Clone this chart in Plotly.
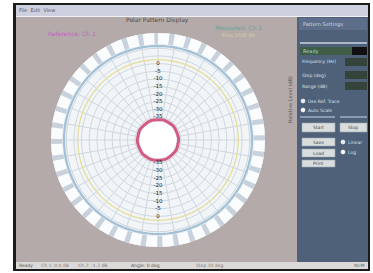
import plotly.graph_objects as go

W, H = 373, 273

# ---------------- data ----------------
# measured pattern (red trace near the centre), degrees / radius units
pattern_theta = [0, 10, 20, 30, 40, 50, 60, 70, 80, 90, 100, 110, 120, 130, 140, 150, 160, 170, 180,
                 190, 200, 210, 220, 230, 240, 250, 260, 270, 280, 290, 300, 310, 320, 330, 340, 350, 360]
pattern_r = [26.5, 26.8, 27.0, 26.6, 26.9, 27.2, 26.7, 26.5, 26.8, 27.0, 26.6, 26.9, 27.1, 26.7, 26.5, 26.8,
             27.0, 26.6, 26.5, 26.8, 27.1, 26.7, 26.9, 27.2, 26.6, 26.5, 26.8, 27.0, 26.6, 26.9, 27.1, 26.7,
             26.5, 26.8, 27.0, 26.6, 26.5]

# reference circles (radius units)
yellow_r = 105
blue_r = 123
band_r = 133

# radial scale labels
label_r = [30, 40, 50, 60, 70, 80, 90, 100]
label_text = ["-35", "-30", "-25", "-20", "-15", "-10", "-5", "0"]

circle_theta = list(range(0, 361, 3))


def X(px):
    return px / W


def Y(py):
    return 1 - py / H


fig = go.Figure()

# outer scale band (grey base + white dashes)
fig.add_trace(go.Scatterpolar(r=[band_r] * len(circle_theta), theta=circle_theta, mode="lines",
                              line=dict(color="#c8d2dc", width=12), hoverinfo="skip"))
fig.add_trace(go.Scatterpolar(r=[band_r] * len(circle_theta), theta=circle_theta, mode="lines",
                              line=dict(color="#fbfcfd", width=12, dash="11px,5px"), hoverinfo="skip"))
# blue circle
fig.add_trace(go.Scatterpolar(r=[blue_r] * len(circle_theta), theta=circle_theta, mode="lines",
                              line=dict(color="#a2c0d6", width=2.2), hoverinfo="skip"))
# yellow circle
fig.add_trace(go.Scatterpolar(r=[yellow_r] * len(circle_theta), theta=circle_theta, mode="lines",
                              line=dict(color="#e6dd9a", width=1.3), hoverinfo="skip"))
# white centre
fig.add_trace(go.Scatterpolar(r=[24] * len(circle_theta), theta=circle_theta, mode="lines", fill="toself",
                              fillcolor="#ffffff", line=dict(color="#ffffff", width=0), hoverinfo="skip"))
# measured pattern
fig.add_trace(go.Scatterpolar(r=pattern_r, theta=pattern_theta, mode="lines",
                              line=dict(color="#d35a82", width=3, shape="spline"), hoverinfo="skip"))
# scale labels (up and down)
fig.add_trace(go.Scatterpolar(r=label_r, theta=[0] * len(label_r), mode="text", text=label_text,
                              textfont=dict(size=5.5, color="#222222", family="DejaVu Sans"), hoverinfo="skip"))
fig.add_trace(go.Scatterpolar(r=label_r, theta=[180] * len(label_r), mode="text", text=label_text,
                              textfont=dict(size=5.5, color="#222222", family="DejaVu Sans"), hoverinfo="skip"))

cx, cy, R = 158, 140, 107

shapes = []


def rect(x0, y0, x1, y1, fill, line=None, lw=0):
    shapes.append(dict(type="rect", xref="paper", yref="paper", x0=X(x0), x1=X(x1), y0=Y(y1), y1=Y(y0),
                       fillcolor=fill, line=dict(color=line or fill, width=lw), layer="below"))


def circ(x, y, r, fill, line="#ffffff"):
    shapes.append(dict(type="circle", xref="paper", yref="paper", x0=X(x - r), x1=X(x + r), y0=Y(y + r), y1=Y(y - r),
                       fillcolor=fill, line=dict(color=line, width=0.6), layer="below"))


rect(13, 3, 370, 271, "#1c1c1c")
rect(16, 5, 368, 16, "#cfd0df")
rect(16, 16, 368, 17, "#f0f0f4")
rect(16, 17, 297, 262, "#b4aaa9")
rect(297, 17, 368, 262, "#4f6079")
rect(16, 262, 368, 269, "#dcdad9")
# right panel widgets
rect(299, 18, 367, 30, "#5c6e8a")
rect(300, 42, 367, 44, "#a9b7c8")
rect(300, 47, 352, 55, "#3f5c47")
rect(352, 47, 367, 55, "#111111")
rect(345, 58, 367, 66, "#34443b")
rect(345, 71, 367, 79, "#34443b")
rect(345, 82, 367, 90, "#34443b")
rect(300, 116, 335, 118, "#8a9ab0")
rect(340, 116, 367, 118, "#8a9ab0")
for (x0, y0, x1, y1) in [(302, 123, 335, 132), (340, 123, 367, 132), (302, 138, 335, 146),
                         (302, 149, 335, 157), (302, 160, 335, 167)]:
    rect(x0, y0, x1, y1, "#d9dddd", "#9aa8b4", 0.6)
circ(303, 101, 2, "#e8ecf0")
circ(303, 110, 2, "#ffffff")
circ(343, 142, 2, "#e8ecf0")
circ(343, 152, 2, "#ffffff")

ann = []


def text(x, y, s, color, size=5, anchor="center", angle=0):
    ann.append(dict(xref="paper", yref="paper", x=X(x), y=Y(y), text=s, showarrow=False, xanchor=anchor,
                    yanchor="middle", textangle=angle, borderpad=0,
                    font=dict(size=size, color=color, family="DejaVu Sans")))


text(18, 10.5, "File  Edit  View", "#555566", 5, "left")
text(157, 20, "Polar Pattern Display", "#4a4a4a", 6)
text(72, 33, "Reference: Ch 1", "#c060c0", 6)
text(238, 28, "Measured: Ch 2", "#5aa89a", 6)
text(238, 36, "Freq 1000 Hz", "#d8d0a8", 5)
text(290, 100, "Relative Level (dB)", "#555555", 5, angle=-90)
text(302, 24, "Pattern Settings", "#d0d8e4", 5, "left")
text(302, 51, "Ready", "#b8d8b8", 5, "left")
text(301, 62, "Frequency (Hz)", "#dde4ec", 4.5, "left")
text(301, 75, "Step (deg)", "#dde4ec", 4.5, "left")
text(301, 86, "Range (dB)", "#dde4ec", 4.5, "left")
text(307, 101, "Use Ref. Trace", "#dde4ec", 4.5, "left")
text(307, 110, "Auto Scale", "#dde4ec", 4.5, "left")
text(318, 127.5, "Start", "#444444", 4.5)
text(353, 127.5, "Stop", "#444444", 4.5)
text(318, 142, "Save", "#444444", 4.5)
text(318, 153, "Load", "#444444", 4.5)
text(318, 163.5, "Print", "#444444", 4.5)
text(347, 142, "Linear", "#dde4ec", 4.5, "left")
text(347, 152, "Log", "#dde4ec", 4.5, "left")
text(18, 265.5, "Ready", "#555555", 4.5, "left")
text(40, 265.5, "Ch 1: 0.0 dB", "#777777", 4.5, "left")
text(77, 265.5, "Ch 2: -1.2 dB", "#777777", 4.5, "left")
text(130, 265.5, "Angle: 0 deg", "#555555", 4.5, "left")
text(195, 265.5, "Step 10 deg", "#777777", 4.5, "left")
text(366, 265.5, "NUM", "#666666", 4.5, "right")

grid = "#d0d7de"
fig.update_layout(
    width=W, height=H, margin=dict(l=0, r=0, t=0, b=0),
    paper_bgcolor="#ffffff", showlegend=False,
    shapes=shapes, annotations=ann,
    polar=dict(
        domain=dict(x=[X(cx - R), X(cx + R)], y=[Y(cy + R), Y(cy - R)]),
        bgcolor="#f1f5f8",
        radialaxis=dict(range=[0, 140], tickvals=[30, 40, 50, 60, 70, 80, 90, 100, 110, 120],
                        showticklabels=False, ticks="", showline=False, gridcolor=grid, gridwidth=0.8),
        angularaxis=dict(dtick=10, showticklabels=False, ticks="", showline=False, gridcolor=grid,
                         gridwidth=0.8, rotation=90, direction="clockwise"),
    ),
)

fig.write_html("out.html", config={"displayModeBar": False},
               post_script="document.body.style.margin='0';document.body.style.overflow='hidden';")
